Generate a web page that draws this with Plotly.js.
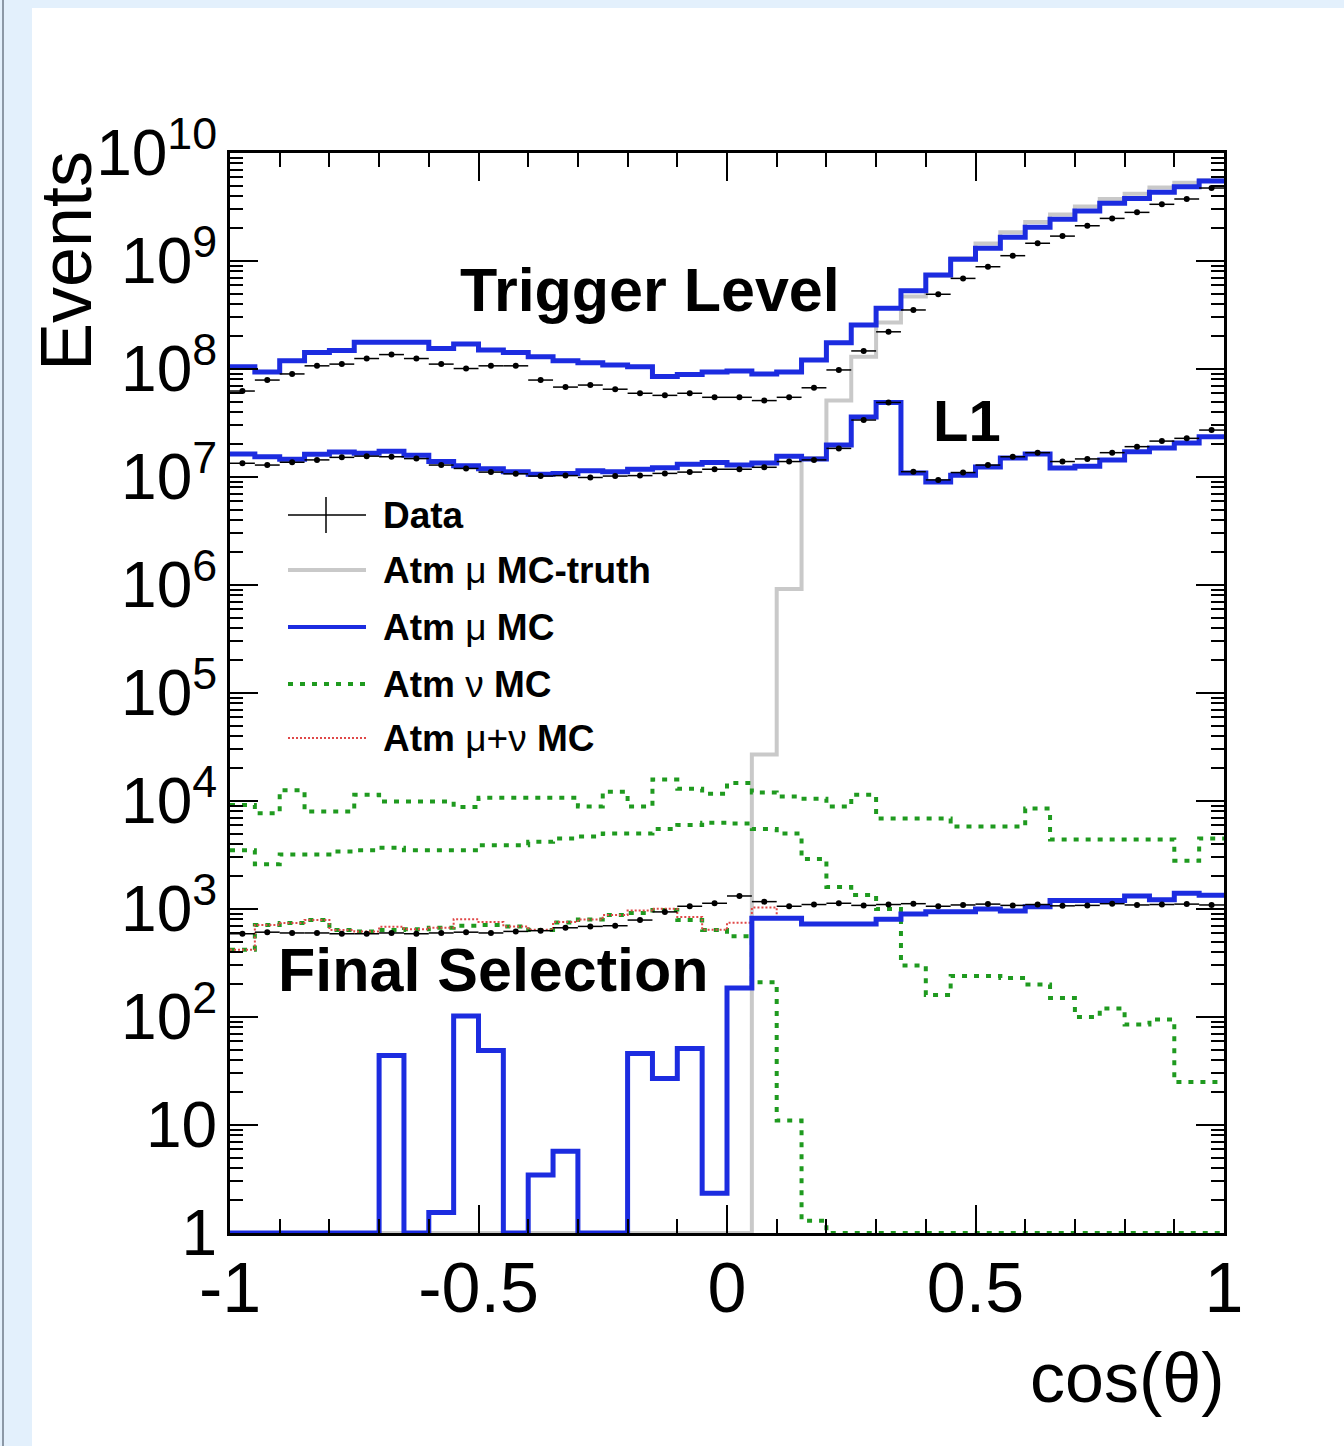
<!DOCTYPE html>
<html><head><meta charset="utf-8">
<script src="https://cdn.plot.ly/plotly-3.0.1.min.js"></script>
<style>
html,body{margin:0;padding:0;background:#e3f0fc;width:1344px;height:1446px;overflow:hidden;}
#edge{position:absolute;left:2px;top:0;width:2px;height:1446px;background:#8c98a6;}
#sheet{position:absolute;left:32px;top:8px;width:1312px;height:1438px;background:#fff;}
#chart{position:absolute;left:0;top:0;width:1344px;height:1446px;}
</style></head><body>
<div id="edge"></div><div id="sheet"></div><div id="chart"></div>
<script>
// bin edges of cos(theta), 40 bins
const binEdges = [-1,-0.95,-0.9,-0.85,-0.8,-0.75,-0.7,-0.65,-0.6,-0.55,-0.5,-0.45,-0.4,-0.35,-0.3,-0.25,-0.2,-0.15,-0.1,-0.05,
  0,0.05,0.1,0.15,0.2,0.25,0.3,0.35,0.4,0.45,0.5,0.55,0.6,0.65,0.7,0.75,0.8,0.85,0.9,0.95,1];

// Trigger level
const trigData = [6.25e7,7.9e7,9.0e7,1.07e8,1.11e8,1.25e8,1.36e8,1.25e8,1.11e8,1.01e8,1.07e8,1.07e8,7.9e7,6.8e7,7.1e7,6.5e7,5.96e7,5.7e7,5.96e7,5.47e7,
  5.47e7,5.1e7,5.47e7,6.7e7,9.8e7,1.47e8,2.21e8,3.52e8,4.92e8,6.9e8,8.85e8,1.12e9,1.46e9,1.70e9,2.12e9,2.48e9,2.82e9,3.35e9,3.75e9,4.74e9];
const trigMuMC = [1.05e8,9.4e7,1.19e8,1.42e8,1.48e8,1.77e8,1.77e8,1.77e8,1.55e8,1.70e8,1.50e8,1.42e8,1.30e8,1.19e8,1.14e8,1.09e8,1.05e8,8.5e7,8.9e7,9.4e7,
  9.6e7,9.0e7,9.4e7,1.21e8,1.75e8,2.55e8,3.65e8,5.3e8,7.4e8,1.04e9,1.31e9,1.66e9,2.05e9,2.43e9,2.9e9,3.42e9,3.8e9,4.33e9,4.88e9,5.5e9];
const trigMuTruth = [0,0,0,0,0,0,0,0,0,0,0,0,0,0,0,0,0,0,0,0,
  0,2.7e4,9.2e5,1.5e7,5.1e7,1.3e8,2.7e8,4.7e8,7.3e8,1.06e9,1.45e9,1.85e9,2.3e9,2.7e9,3.2e9,3.75e9,4.2e9,4.8e9,5.3e9,5.6e9];
const trigNuMC = [9.2e3,7.7e3,1.26e4,8.0e3,8.0e3,1.14e4,9.9e3,9.9e3,9.9e3,8.8e3,1.07e4,1.07e4,1.07e4,1.07e4,8.9e3,1.22e4,8.9e3,1.58e4,1.3e4,1.17e4,
  1.47e4,1.2e4,1.1e4,1.05e4,8.9e3,1.14e4,6.9e3,6.9e3,6.9e3,5.8e3,5.8e3,5.8e3,8.5e3,4.4e3,4.4e3,4.4e3,4.4e3,4.4e3,2.8e3,4.5e3];

// L1
const l1Data = [1.34e7,1.29e7,1.37e7,1.44e7,1.52e7,1.56e7,1.54e7,1.48e7,1.29e7,1.20e7,1.11e7,1.07e7,1.02e7,1.03e7,9.9e6,1.02e7,1.03e7,1.08e7,1.11e7,1.18e7,
  1.18e7,1.23e7,1.39e7,1.44e7,1.84e7,3.37e7,4.9e7,1.12e7,9.4e6,1.10e7,1.29e7,1.54e7,1.68e7,1.39e7,1.47e7,1.68e7,1.91e7,2.15e7,2.28e7,2.72e7];
const l1MuMC = [1.63e7,1.54e7,1.46e7,1.62e7,1.70e7,1.66e7,1.73e7,1.59e7,1.39e7,1.27e7,1.19e7,1.12e7,1.06e7,1.08e7,1.14e7,1.12e7,1.18e7,1.22e7,1.31e7,1.36e7,
  1.29e7,1.35e7,1.56e7,1.47e7,1.98e7,3.6e7,4.9e7,1.09e7,9.0e6,1.04e7,1.24e7,1.50e7,1.63e7,1.21e7,1.26e7,1.44e7,1.71e7,1.86e7,2.07e7,2.36e7];
const l1NuMC = [3.5e3,2.6e3,3.2e3,3.2e3,3.4e3,3.5e3,3.7e3,3.5e3,3.5e3,3.5e3,3.9e3,3.9e3,4.2e3,4.5e3,4.7e3,5.0e3,5.0e3,5.5e3,6.0e3,6.3e3,
  6.2e3,5.5e3,5.0e3,2.9e3,1.6e3,1.35e3,1.0e3,300,160,240,240,230,200,150,100,120,85,95,25,25];

// Final selection
const finalData = [590,610,600,600,590,590,600,590,600,610,600,620,630,670,690,700,790,940,1060,1130,
  1320,1170,1060,1100,1130,1080,1100,1120,1060,1090,1110,1080,1100,1070,1080,1120,1090,1100,1110,1090];
const finalMuMC = [0,0,0,0,0,0,44,0,1.55,102,49,0,3.45,5.7,0,0,46,27,51,2.33,
  186,820,820,726,726,726,804,900,944,944,1000,960,1050,1200,1200,1200,1320,1220,1400,1340];
const finalNuMC = [420,710,740,790,640,620,640,650,670,700,710,690,640,750,800,880,920,980,790,640,
  560,210,11,1.3,0,0,0,0,0,0,0,0,0,0,0,0,0,0,0,0];
const finalMuNuMC = [420,710,740,790,640,620,684,650,672,802,759,690,643,756,800,880,966,1007,841,642,
  746,1030,831,727,726,726,804,900,944,944,1000,960,1050,1200,1200,1200,1320,1220,1400,1340];

const yTickVals = [1,10,100,1e3,1e4,1e5,1e6,1e7,1e8,1e9,1e10];
const yTickText = ['1','10','10<sup>2</sup>','10<sup>3</sup>','10<sup>4</sup>','10<sup>5</sup>','10<sup>6</sup>','10<sup>7</sup>','10<sup>8</sup>','10<sup>9</sup>','10<sup>10</sup>'];
const xTickVals = [-1,-0.5,0,0.5,1];
const xTickText = ['-1','-0.5','0','0.5','1'];

// ---- drawing helpers ----
const AXIS_MIN = 1; // empty bins drawn on the lower frame, as ROOT does on a log scale
function stepY(vals){ const y = vals.map(v => Math.max(v, AXIS_MIN)); y.push(y[y.length-1]); return y; }
const centers = binEdges.slice(0,-1).map((e,i)=> (e+binEdges[i+1])/2);
const halfW = binEdges.slice(0,-1).map((e,i)=> (binEdges[i+1]-e)/2);

const BLUE = '#1c2ce0', GRAY = '#c9c9c9', GREEN = '#1f9a1f', RED = '#e04848';
function hist(vals, color, width, dash){
  return {type:'scatter', mode:'lines', x: binEdges, y: stepY(vals), line:{shape:'hv', color, width, dash: dash||'solid'}, hoverinfo:'skip', showlegend:false};
}
function points(vals){
  return {type:'scatter', mode:'markers', x: centers, y: vals, marker:{color:'black', size:6},
    error_x:{type:'data', array: halfW, color:'black', thickness:1.5, width:0}, showlegend:false, hoverinfo:'skip'};
}

const traces = [
  hist(trigMuTruth, GRAY, 4),
  hist(trigNuMC, GREEN, 4, '5px,7px'),
  hist(l1NuMC, GREEN, 4, '5px,7px'),
  hist(finalNuMC, GREEN, 4, '5px,7px'),
  hist(finalMuNuMC, RED, 2, '2px,2px'),
  hist(trigMuMC, BLUE, 5),
  hist(l1MuMC, BLUE, 5),
  hist(finalMuMC, BLUE, 5),
  points(trigData), points(l1Data), points(finalData)
];

// plot area in page pixels
const L = 230, R = 1224, T = 153, B = 1233;
const px = v => (v - L)/(R - L);
const py = v => (B - v)/(B - T);

const FONT = 'Liberation Sans, Arial, Helvetica, sans-serif';
const shapes = [];
const annotations = [];
// manual legend
const legY = [515, 570, 627, 684, 738];
const legLabels = ['<b>Data</b>', '<b>Atm</b> μ <b>MC-truth</b>', '<b>Atm</b> μ <b>MC</b>', '<b>Atm</b> ν <b>MC</b>', '<b>Atm</b> μ+ν <b>MC</b>'];
const legStyle = [
  {color:'black', width:1.5, dash:'solid'},
  {color:GRAY, width:4, dash:'solid'},
  {color:BLUE, width:4, dash:'solid'},
  {color:GREEN, width:4, dash:'5px,7px'},
  {color:RED, width:2, dash:'2px,2px'}
];
legY.forEach((yy,i)=>{
  shapes.push({type:'line', xref:'paper', yref:'paper', x0:px(288), x1:px(366), y0:py(yy), y1:py(yy), line:legStyle[i]});
  annotations.push({xref:'paper', yref:'paper', x:px(381), y:py(yy), xanchor:'left', yanchor:'middle', showarrow:false,
    text: legLabels[i], font:{family:FONT, size:37, color:'black'}});
});
shapes.push({type:'line', xref:'paper', yref:'paper', x0:px(326), x1:px(326), y0:py(497), y1:py(533), line:{color:'black', width:1.5}});

annotations.push({xref:'paper', yref:'paper', x:px(650), y:py(290), xanchor:'center', yanchor:'middle', showarrow:false, text:'<b>Trigger Level</b>', font:{family:FONT, size:61, color:'black'}});
annotations.push({xref:'paper', yref:'paper', x:px(967), y:py(420), xanchor:'center', yanchor:'middle', showarrow:false, text:'<b>L1</b>', font:{family:FONT, size:58, color:'black'}});
annotations.push({xref:'paper', yref:'paper', x:px(493), y:py(970), xanchor:'center', yanchor:'middle', showarrow:false, text:'<b>Final Selection</b>', font:{family:FONT, size:61, color:'black'}});
annotations.push({xref:'paper', yref:'paper', x:px(1226), y:py(1378), xanchor:'right', yanchor:'middle', showarrow:false, text:'cos(θ)', font:{family:FONT, size:70, color:'black'}});
annotations.push({xref:'paper', yref:'paper', x:px(66), y:py(261), xanchor:'center', yanchor:'middle', textangle:-90, showarrow:false, text:'Events', font:{family:FONT, size:72, color:'black'}});

const yMinor = [];
for (let d=0; d<10; d++) for (let k=2; k<10; k++) yMinor.push(k*Math.pow(10,d));

const layout = {
  width:1344, height:1446,
  margin:{l:L, r:1344-R, t:T, b:1446-B, pad:0},
  paper_bgcolor:'rgba(0,0,0,0)', plot_bgcolor:'white',
  showlegend:false,
  font:{family:FONT, color:'black'},
  xaxis:{range:[-1,1], tickmode:'array', tickvals:xTickVals, ticktext:xTickText,
    ticks:'inside', ticklen:28, tickwidth:2, tickcolor:'black',
    minor:{tickmode:'linear', tick0:-1, dtick:0.1, ticks:'inside', ticklen:14, tickwidth:2, tickcolor:'black', showgrid:false},
    showline:true, linewidth:3, linecolor:'black', mirror:'allticks', showgrid:false, zeroline:false,
    tickfont:{family:FONT, size:70, color:'black'}, ticklabelstandoff:-8},
  yaxis:{type:'log', range:[0,10], tickmode:'array', tickvals:yTickVals, ticktext:yTickText,
    ticks:'inside', ticklen:28, tickwidth:2, tickcolor:'black',
    minor:{tickmode:'array', tickvals:yMinor, ticks:'inside', ticklen:13, tickwidth:2, tickcolor:'black', showgrid:false},
    showline:true, linewidth:3, linecolor:'black', mirror:'allticks', showgrid:false, zeroline:false,
    tickfont:{family:FONT, size:64, color:'black'}, ticklabelstandoff:-3},
  shapes, annotations
};

Plotly.newPlot('chart', traces, layout, {staticPlot:true, displayModeBar:false});
</script>
</body></html>
